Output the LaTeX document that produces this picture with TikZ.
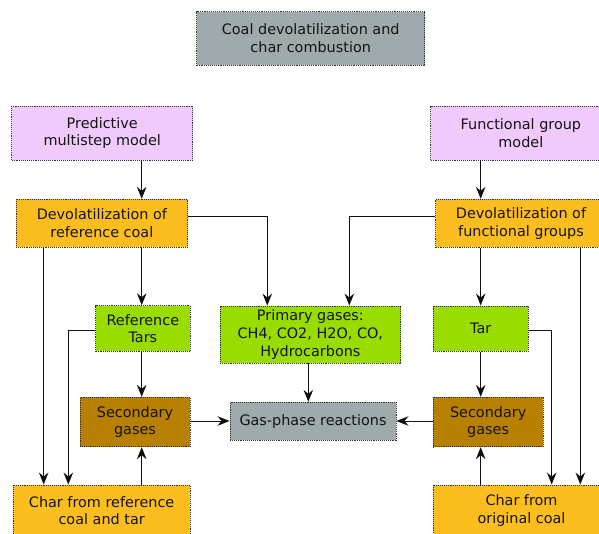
\documentclass[tikz,border=0pt]{standalone}
\usepackage{fontspec}
\setmainfont{DejaVu Sans}
\usetikzlibrary{arrows.meta}
\definecolor{ctitle}{RGB}{160,170,173}
\definecolor{cviolet}{RGB}{240,202,252}
\definecolor{corange}{RGB}{252,190,30}
\definecolor{cgreen}{RGB}{153,221,0}
\definecolor{cbrown}{RGB}{184,128,0}
\definecolor{cborder}{RGB}{50,50,50}
\definecolor{cline}{RGB}{15,15,15}
\tikzset{
  box/.style={draw=cborder, densely dotted, line width=0.9pt, inner sep=0pt, align=center,
    font=\fontsize{14.4}{17.7}\selectfont, text=black!92},
  arr/.style={draw=cline, line width=1pt, -{Stealth[length=12pt,width=9.5pt,inset=4pt]}},
  ln/.style={draw=cline, line width=1pt}
}
\begin{document}
\begin{tikzpicture}[x=1pt,y=-1pt]
\useasboundingbox (0,0) rectangle (599,534);
\node[box, fill=ctitle, minimum width=228, minimum height=53.3] (title) at (310.7,38.35) {Coal devolatilization and\\char combustion};
\node[box, fill=cviolet, minimum width=181, minimum height=54] (pred) at (102.2,133) {Predictive\\multistep model};
\node[box, fill=cviolet, minimum width=180.3, minimum height=54] (func) at (520.85,133) {Functional group\\model};
\node[box, fill=corange, minimum width=171.7, minimum height=48] (devref) at (101.85,223.3) {Devolatilization of\\reference coal};
\node[box, fill=corange, minimum width=170.6, minimum height=48] (devfunc) at (521,223.3) {Devolatilization of\\functional groups};
\node[box, fill=cgreen, minimum width=94.3, minimum height=45.6] (reftars) at (142.85,328.5) {Reference\\Tars};
\node[box, fill=cgreen, minimum width=180.7, minimum height=57] (primary) at (310.35,334.5) {Primary gases:\\CH4, CO2, H2O, CO,\\Hydrocarbons};
\node[box, fill=cgreen, minimum width=95.3, minimum height=45.3] (tar) at (480.65,328.65) {Tar};
\node[box, fill=cbrown, minimum width=110, minimum height=49.4] (secl) at (135,422) {Secondary\\gases};
\node[box, fill=ctitle, minimum width=166, minimum height=38] (gas) at (313,421.3) {Gas-phase reactions};
\node[box, fill=cbrown, minimum width=110.3, minimum height=49.4] (secr) at (488.15,422) {Secondary\\gases};
\node[box, fill=corange, minimum width=176.7, minimum height=51] (charref) at (101.65,510.5) {Char from reference\\coal and tar};
\node[box, fill=corange, minimum width=177, minimum height=51] (charorig) at (521.5,510.5) {Char from\\original coal};
% column / row coordinates
\coordinate (c1) at (141.7,0);
\coordinate (c2) at (43.7,0);
\coordinate (c3) at (68.3,0);
\coordinate (c4) at (267.3,0);
\coordinate (c5) at (349.3,0);
\coordinate (c6) at (308.3,0);
\coordinate (c7) at (480.7,0);
\coordinate (c8) at (551.7,0);
\coordinate (c9) at (580.3,0);
\coordinate (r1) at (0,216.7);
\coordinate (r2) at (0,330);
\coordinate (r3) at (0,421);
% connectors
\draw[arr] (pred.south -| c1) -- (devref.north -| c1);
\draw[arr] (func.south -| c7) -- (devfunc.north -| c7);
\draw[arr] (devref.east |- r1) -| (primary.north -| c4);
\draw[arr] (devfunc.west |- r1) -| (primary.north -| c5);
\draw[arr] (devref.south -| c1) -- (reftars.north -| c1);
\draw[arr] (devref.south -| c2) -- (charref.north -| c2);
\draw[arr] (reftars.west |- r2) -| (charref.north -| c3);
\draw[arr] (reftars.south -| c1) -- (secl.north -| c1);
\draw[arr] (charref.north -| c1) -- (secl.south -| c1);
\draw[arr] (secl.east |- r3) -- (gas.west |- r3);
\draw[arr] (primary.south -| c6) -- (gas.north -| c6);
\draw[arr] (secr.west |- r3) -- (gas.east |- r3);
\draw[arr] (devfunc.south -| c7) -- (tar.north -| c7);
\draw[arr] (devfunc.south -| c9) -- (charorig.north -| c9);
\draw[arr] (tar.east |- r2) -| (charorig.north -| c8);
\draw[arr] (tar.south -| c7) -- (secr.north -| c7);
\draw[arr] (charorig.north -| c7) -- (secr.south -| c7);
\end{tikzpicture}
\end{document}
